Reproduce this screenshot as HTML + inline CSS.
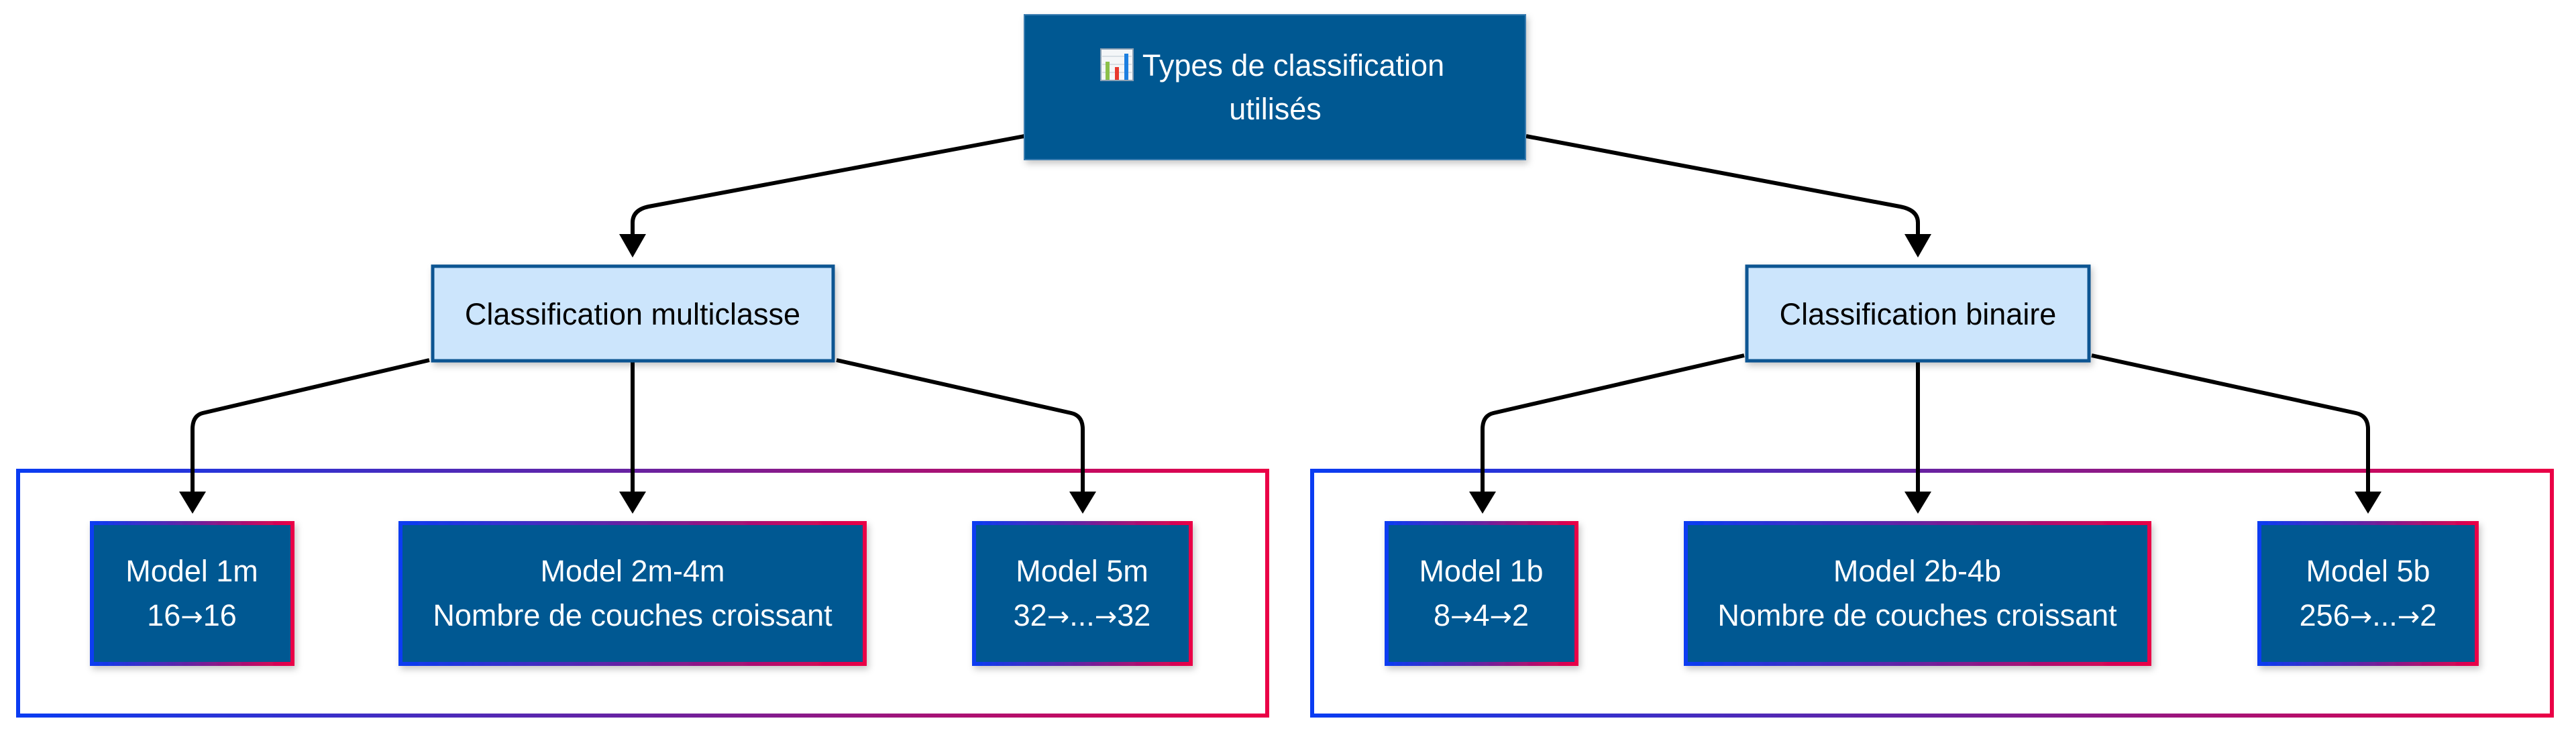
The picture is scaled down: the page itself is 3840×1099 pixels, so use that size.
<!DOCTYPE html>
<html><head><meta charset="utf-8"><style>
html,body{margin:0;padding:0;background:#fff;}
svg{display:block;}
text{font-family:"Liberation Sans",Arial,sans-serif;}
.ar{font-family:"DejaVu Sans",sans-serif;font-size:40px;}
</style></head><body>
<svg width="3840" height="1099" viewBox="0 0 3840 1099" xmlns="http://www.w3.org/2000/svg">
<defs>
<linearGradient id="g" x1="0" y1="0" x2="1" y2="0">
<stop offset="0" stop-color="#0a3cf2"/><stop offset="0.5" stop-color="#6a22a0"/><stop offset="1" stop-color="#ea0046"/>
</linearGradient>
<filter id="sh" x="-10%" y="-10%" width="120%" height="130%"><feDropShadow dx="3" dy="5" stdDeviation="5" flood-color="#000" flood-opacity="0.22"/></filter>
</defs>

<rect x="27" y="702" width="1862" height="365" fill="none" stroke="url(#g)" stroke-width="6"/>
<rect x="1956" y="702" width="1848" height="365" fill="none" stroke="url(#g)" stroke-width="6"/>

<g fill="none" stroke="#000" stroke-width="6" stroke-linejoin="round">
<path d="M1527,203 L967,308 Q943,313 943,332 L943,352"/>
<path d="M2275,203 L2832,308 Q2859,313 2859,332 L2859,352"/>
<path d="M640,537 L302,616 Q287,620 287,640 L287,735"/>
<path d="M943,540 L943,735"/>
<path d="M1247,537 L1597,616 Q1614,620 1614,640 L1614,735"/>
<path d="M2600,530 L2226,616 Q2210,620 2210,640 L2210,735"/>
<path d="M2859,540 L2859,735"/>
<path d="M3118,530 L3512,616 Q3530,620 3530,640 L3530,735"/>
</g>
<g fill="#000">
<polygon points="923,349 963,349 943,384"/>
<polygon points="2839,349 2879,349 2859,384"/>
<polygon points="267,733 307,733 287,766"/>
<polygon points="923,733 963,733 943,766"/>
<polygon points="1594,733 1634,733 1614,766"/>
<polygon points="2190,733 2230,733 2210,766"/>
<polygon points="2839,733 2879,733 2859,766"/>
<polygon points="3510,733 3550,733 3530,766"/>
</g>

<rect x="1527" y="22" width="747" height="216" fill="#045892" stroke="#3a7db0" stroke-width="2" filter="url(#sh)"/>
<g>
<rect x="1641" y="73" width="48" height="47" fill="#f4f6f8" stroke="#8aa0b4" stroke-width="2"/>
<line x1="1643" y1="84" x2="1687" y2="84" stroke="#cdd6de" stroke-width="1.5"/>
<line x1="1643" y1="96" x2="1687" y2="96" stroke="#cdd6de" stroke-width="1.5"/>
<line x1="1643" y1="108" x2="1687" y2="108" stroke="#cdd6de" stroke-width="1.5"/>
<rect x="1648" y="92" width="6" height="27" fill="#8cc04a"/>
<rect x="1662" y="100" width="6" height="19" fill="#e8382e"/>
<rect x="1676" y="80" width="6" height="39" fill="#1d7fe0"/>
</g>
<text x="1928" y="113" font-size="45" fill="#fff" text-anchor="middle">Types de classification</text>
<text x="1901" y="178" font-size="45" fill="#fff" text-anchor="middle">utilisés</text>

<rect x="645" y="397" width="597" height="141" fill="#cce5fc" stroke="#0a5592" stroke-width="5" filter="url(#sh)"/>
<text x="943" y="484" font-size="45" fill="#000" text-anchor="middle">Classification multiclasse</text>
<rect x="2604" y="397" width="510" height="141" fill="#cce5fc" stroke="#0a5592" stroke-width="5" filter="url(#sh)"/>
<text x="2859" y="484" font-size="45" fill="#000" text-anchor="middle">Classification binaire</text>

<g stroke="url(#g)" stroke-width="6" fill="#045892" filter="url(#sh)">
<rect x="137" y="780" width="299" height="210"/>
<rect x="597" y="780" width="692" height="210"/>
<rect x="1452" y="780" width="323" height="210"/>
<rect x="2067" y="780" width="283" height="210"/>
<rect x="2513" y="780" width="691" height="210"/>
<rect x="3368" y="780" width="324" height="210"/>
</g>
<g font-size="45" fill="#fff" text-anchor="middle">
<text x="286" y="867">Model 1m</text><text x="286" y="933">16<tspan class="ar">→</tspan>16</text>
<text x="943" y="867">Model 2m-4m</text><text x="943" y="933">Nombre de couches croissant</text>
<text x="1613" y="867">Model 5m</text><text x="1613" y="933">32<tspan class="ar">→</tspan>...<tspan class="ar">→</tspan>32</text>
<text x="2208" y="867">Model 1b</text><text x="2208" y="933">8<tspan class="ar">→</tspan>4<tspan class="ar">→</tspan>2</text>
<text x="2858" y="867">Model 2b-4b</text><text x="2858" y="933">Nombre de couches croissant</text>
<text x="3530" y="867">Model 5b</text><text x="3530" y="933">256<tspan class="ar">→</tspan>...<tspan class="ar">→</tspan>2</text>
</g>
</svg>
</body></html>
